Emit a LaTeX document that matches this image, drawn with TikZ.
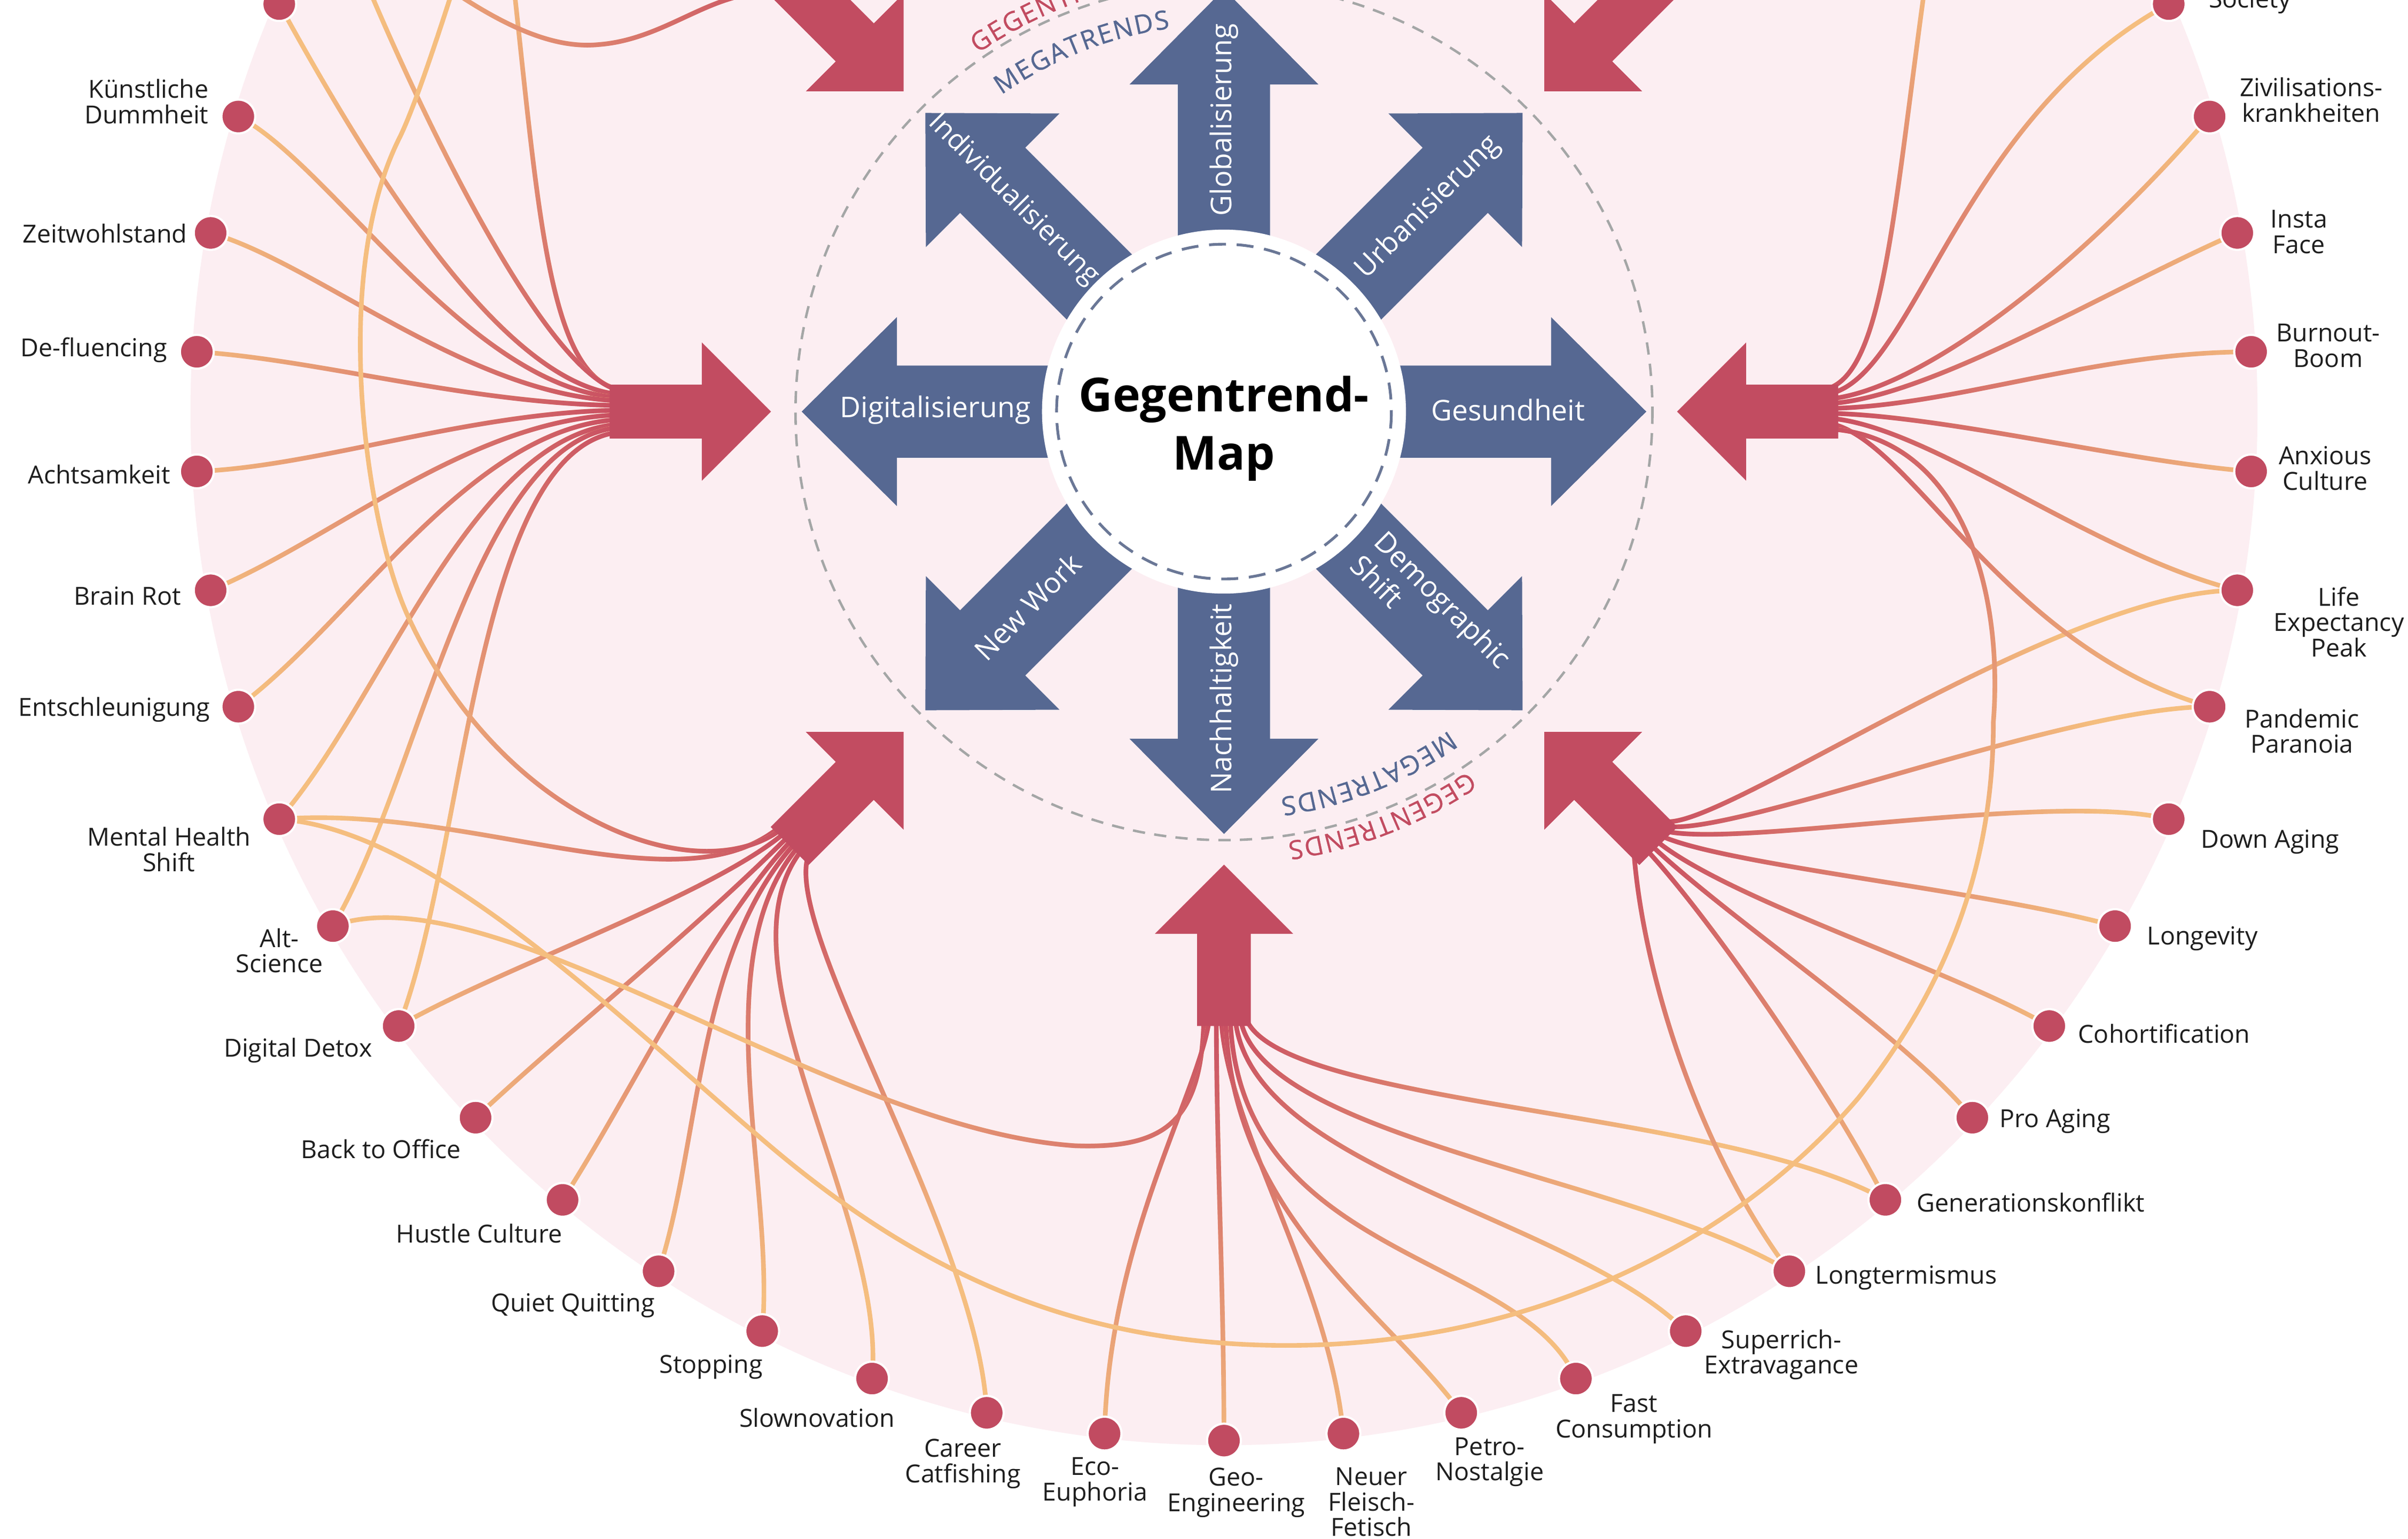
\documentclass[tikz,border=0pt]{standalone}
\usepackage{fontspec}
\setmainfont{Open Sans}
\newfontfamily\capfont[FakeBold=0.7]{Open Sans}
\usetikzlibrary{calc,decorations.text,fadings}
\definecolor{bgpink}{HTML}{FCEEF2}
\definecolor{megablue}{HTML}{566892}
\definecolor{gegenred}{HTML}{C24C61}
\definecolor{dotred}{HTML}{C14B61}
\definecolor{lineorange}{HTML}{F5BE7F}
\definecolor{linered}{HTML}{C84C61}
\definecolor{dashgray}{HTML}{A4A6A6}
\definecolor{labelgray}{HTML}{1E1E1E}
\definecolor{innerdash}{HTML}{6A7796}
\pgfdeclarelayer{bglayer}
\pgfdeclarelayer{curvelayer}
\pgfdeclarelayer{arrowlayer}
\pgfsetlayers{bglayer,curvelayer,arrowlayer,main}
\tikzfading[name=fanfade, inner color=transparent!0, outer color=transparent!100]
\newcommand\twotone[2]{%
  \draw[curvebase] #2;
  \draw[curvetop, path fading=fanfade, fit fading=false, fading transform={shift={(#1)}, scale=12}] #2;}
\newcommand\fanline[7]{%
  \twotone{#1}{({797+388*cos(#2)-(#3)*sin(#2)},{268-388*sin(#2)-(#3)*cos(#2)}) .. controls +({(#4)*cos(#2)},{-(#4)*sin(#2)}) and ($(#5)+(#6,#7)$) .. (#5.center)}}
\begin{document}
\begin{tikzpicture}[x=1pt,y=-1pt,
  dot/.style={circle, fill=dotred, draw=white, line width=1.4pt, minimum size=22pt, inner sep=0pt},
  lbl/.style={font=\fontsize{16.2}{16.6}\selectfont, text=labelgray, inner sep=0pt, align=center},
  megatext/.style={font=\fontsize{18.6}{22}\selectfont, text=white, inner sep=0pt, align=left},
  curvebase/.style={draw=lineorange, line width=3pt},
  curvetop/.style={draw=linered, line width=3pt},
  redarrow/.style={fill=gegenred},
  bluearrow/.style={fill=megablue}]
\useasboundingbox (0,0) rectangle (1568,1002);
\clip (0,0) rectangle (1568,1002);

% ---------- background ----------
\begin{pgfonlayer}{bglayer}
  \clip (0,0) rectangle (1568,1002);
  \fill[white] (0,0) rectangle (1568,1002);
  \fill[bgpink] (797,268) circle[radius=673];
  \draw[dashgray, line width=1.6pt, dash pattern=on 8pt off 6pt] (797,268) circle[radius=279];
\end{pgfonlayer}

% ---------- trend dots ----------
\foreach \k in {0,...,17}
  \node[dot] (n\k) at ({797+670*cos(-90+\k*20/3)},{268-670*sin(-90+\k*20/3)}) {};
\foreach \k in {37,...,53}
  \node[dot] (n\k) at ({797+670*cos(-90+\k*20/3)},{268-670*sin(-90+\k*20/3)}) {};
\foreach \k in {18,19,20,33,34,35,36}
  \coordinate (n\k) at ({797+670*cos(-90+\k*20/3)},{268-670*sin(-90+\k*20/3)});

% ---------- labels ----------
\node[lbl, anchor=east, align=right] (l38) at (136,66) {Künstliche\\Dummheit};
\node[lbl, anchor=east] (l39) at (122,152) {Zeitwohlstand};
\node[lbl, anchor=east] (l40) at (109,228) {De-fluencing};
\node[lbl, anchor=east] (l41) at (111,309) {Achtsamkeit};
\node[lbl, anchor=east] (l42) at (118,388) {Brain Rot};
\node[lbl, anchor=east] (l43) at (137,462) {Entschleunigung};
\node[lbl] (l44) at (110,553) {Mental Health\\Shift};
\node[lbl] (l45) at (182,619) {Alt-\\Science};
\node[lbl] (l46) at (194,684) {Digital Detox};
\node[lbl] (l47) at (248,748) {Back to Office};
\node[lbl] (l48) at (312,803) {Hustle Culture};
\node[lbl] (l49) at (373,850) {Quiet Quitting};
\node[lbl] (l50) at (463,890) {Stopping};
\node[lbl] (l51) at (532,923) {Slownovation};
\node[lbl] (l52) at (627,953) {Career\\Catfishing};
\node[lbl] (l53) at (713,965) {Eco-\\Euphoria};
\node[lbl] (l0) at (805,972) {Geo-\\Engineering};
\node[lbl] (l1) at (893,978) {Neuer\\Fleisch-\\Fetisch};
\node[lbl] (l2) at (970,952) {Petro-\\Nostalgie};
\node[lbl] (l3) at (1064,924) {Fast\\Consumption};
\node[lbl] (l4) at (1160,882) {Superrich-\\Extravagance};
\node[lbl, anchor=west] (l5) at (1182,832) {Longtermismus};
\node[lbl, anchor=west] (l6) at (1248,783) {Generationskonflikt};
\node[lbl, anchor=west] (l7) at (1302,730) {Pro Aging};
\node[lbl, anchor=west] (l8) at (1353,673) {Cohortification};
\node[lbl, anchor=west] (l9) at (1398,611) {Longevity};
\node[lbl, anchor=west] (l10) at (1433,548) {Down Aging};
\node[lbl] (l11) at (1499,476) {Pandemic\\Paranoia};
\node[lbl] (l12) at (1523,405) {Life\\Expectancy\\Peak};
\node[lbl] (l13) at (1514,305) {Anxious\\Culture};
\node[lbl] (l14) at (1516,225) {Burnout-\\Boom};
\node[lbl] (l15) at (1497,151) {Insta\\Face};
\node[lbl] (l16) at (1505,65) {Zivilisations-\\krankheiten};
\node[lbl] (l17) at (1465,1) {Society};

% ---------- connectors ----------
\begin{pgfonlayer}{curvelayer}
\clip (0,0) rectangle (1568,1002);
\coordinate (fL) at (409,268);
\coordinate (fBL) at (522.6,542.4);
\coordinate (fB) at (797,656);
\coordinate (fBR) at (1071.4,542.4);
\coordinate (fR) at (1185,268);
\coordinate (fTL) at (522.6,-6.4);
% left
\fanline{fL}{180}{-11}{80}{n37}{55}{100}
\twotone{fL}{(409,254) .. controls (340,254) and (352,50) .. (n34)}
\twotone{fL}{(409,255) .. controls (350,255) and (237,-7) .. (n36)}
\fanline{fL}{180}{-9}{100}{n38}{60}{30}
\fanline{fL}{180}{-7}{100}{n39}{70}{20}
\fanline{fL}{180}{-4}{100}{n40}{80}{5}
\fanline{fL}{180}{-1}{100}{n41}{80}{-3}
\fanline{fL}{180}{2}{100}{n42}{82}{-34}
\fanline{fL}{180}{5}{100}{n43}{76}{-56}
\fanline{fL}{180}{8}{100}{n44}{68}{-77}
\fanline{fL}{180}{10}{100}{n45}{58}{-97}
\fanline{fL}{180}{13}{100}{n46}{45}{-116}
% bottom left
\twotone{fBL}{(513.4,533.2) .. controls (449.8,596.8) and ($(n44)+(130,-10)$) .. (n44.center)}
\twotone{fBL}{(514.8,534.6) .. controls (465.3,584.1) and (330,540) .. (266,402) .. controls (238,342) and (215,180) .. (260,90) .. controls (280,50) and (330,-120) .. (n33)}
\fanline{fBL}{225}{-8}{60}{n46}{70}{-40}
\fanline{fBL}{225}{-5}{100}{n47}{62}{-58}
\fanline{fBL}{225}{-2}{80}{n48}{46.5}{-72}
\fanline{fBL}{225}{1}{100}{n49}{28}{-85}
\fanline{fBL}{225}{4}{100}{n50}{9}{-97}
\fanline{fBL}{225}{7}{100}{n51}{10}{-110}
\fanline{fBL}{225}{11}{50}{n52}{-5}{-120}
% bottom
\twotone{fB}{(784,656) .. controls (784,730) and (760,748) .. (700,746) .. controls (540,735) and (320,565) .. (n45.center)}
\fanline{fB}{270}{-9}{44}{n53}{3}{-133}
\fanline{fB}{270}{-5}{94}{n0}{0}{-98}
\fanline{fB}{270}{-2}{74}{n1}{-10}{-103}
\fanline{fB}{270}{1}{134}{n2}{-51.5}{-70}
\fanline{fB}{270}{4}{164}{n3}{-36}{-83}
\fanline{fB}{270}{7}{104}{n4}{-78}{-77}
\fanline{fB}{270}{10}{84}{n5}{-105}{-63}
\fanline{fB}{270}{13}{64}{n6}{-108}{-61}
% bottom right
\fanline{fBR}{315}{13}{30}{n12}{-120}{0}
\fanline{fBR}{315}{10}{30}{n11}{-100}{0}
\fanline{fBR}{315}{7}{30}{n10}{-80}{-20}
\fanline{fBR}{315}{4}{30}{n9}{-90}{-25}
\fanline{fBR}{315}{1}{57}{n8}{-70}{-40}
\fanline{fBR}{315}{-3}{70}{n7}{-45}{-55}
\fanline{fBR}{315}{-7}{57}{n6}{-35}{-70}
\twotone{fBR}{(1063.6,550.2) .. controls (1068.6,630) and ($(n5)+(-60,-80)$) .. (n5.center)}
% right
\twotone{fR}{(1185,254) .. controls (1240,250) and (1232,60) .. (n20)}
\fanline{fR}{0}{11}{60}{n17}{-142}{77}
\fanline{fR}{0}{8}{55}{n16}{-94}{109}
\fanline{fR}{0}{5}{65}{n15}{-87}{38}
\fanline{fR}{0}{2}{85}{n14}{-106}{0}
\fanline{fR}{0}{-1}{75}{n13}{-86}{-7}
\fanline{fR}{0}{-4}{65}{n12}{-97}{-24}
\fanline{fR}{0}{-7}{55}{n11}{-139}{-40}
\twotone{fR}{(1185,279) .. controls (1275,280) and (1305,380) .. (1298,470) .. controls (1298,560) and (1270,640) .. (1210,715) .. controls (1120,820) and (980,878) .. (830,876) .. controls (700,874) and (600,830) .. (500,745) .. controls (400,660) and (280,540) .. (n44.center)}
% top left
\twotone{fTL}{(518,-2) .. controls (470,-15) and (440,25) .. (390,29) .. controls (350,33) and (300,5) .. (n36)}
\end{pgfonlayer}

% ---------- arrows and centre ----------
\begin{pgfonlayer}{arrowlayer}
\clip (0,0) rectangle (1568,1002);
\foreach \a in {0,45,...,315} {
  \fill[redarrow, shift={(797,268)}, rotate=\a] (295,0) -- (340,45) -- (340,17.5) -- (400,17.5) -- (400,-17.5) -- (340,-17.5) -- (340,-45) -- cycle;
  \fill[bluearrow, shift={(797,268)}, rotate=\a] (100,-30) -- (213,-30) -- (213,-61.5) -- (275,0) -- (213,61.5) -- (213,30) -- (100,30) -- cycle;
}
\node[circle, fill=white, minimum size=237pt, inner sep=0pt] (hub) at (797,268) {};
\draw[innerdash, line width=1.8pt, dash pattern=on 11pt off 7pt] (797,268) circle[radius=109];
\node[font=\bfseries\fontsize{30.5}{38}\selectfont, align=center, text=black, inner sep=0pt] (title) at (797,279) {Gegentrend-\\Map};
\node[megatext] (tDig) at (609,267) {Digitalisierung};
\node[megatext] (tGes) at (982,267) {Gesundheit};
\node[megatext, rotate=90] (tGlo) at (797,78) {Globalisierung};
\node[megatext, rotate=-45, font=\fontsize{18}{22}\selectfont] (tInd) at (660,130) {Individualisierung};
\node[megatext, rotate=45] (tUrb) at (930,135) {Urbanisierung};
\node[megatext, rotate=45] (tNew) at (669,395) {New Work};
\node[megatext, rotate=90] (tNac) at (797,455) {Nachhaltigkeit};
\node[megatext, rotate=-45] (tDem) at (932,398) {Demographic\\Shift};
% curved ring captions
\path[decorate, decoration={text along path, text align=fit to path,
  text={|\color{megablue}\capfont\fontsize{17}{17}\selectfont|MEGATRENDS}}]
  ({797+252*cos(125.1)},{268-252*sin(125.1)}) arc[start angle=-125.1, end angle=-98, radius=252];
\path[decorate, decoration={text along path, text align=fit to path,
  text={|\color{gegenred}\capfont\fontsize{17}{17}\selectfont|GEGENTRENDS}}]
  ({797+283*cos(124.5)},{268-283*sin(124.5)}) arc[start angle=-124.5, end angle=-98.5, radius=283];
\path[decorate, decoration={text along path, text align=fit to path,
  text={|\color{megablue}\capfont\fontsize{17}{17}\selectfont|MEGATRENDS}}]
  ({797+254*cos(-54.8)},{268-254*sin(-54.8)}) arc[start angle=54.8, end angle=81.7, radius=254];
\path[decorate, decoration={text along path, text align=fit to path,
  text={|\color{gegenred}\capfont\fontsize{17}{17}\selectfont|GEGENTRENDS}}]
  ({797+283*cos(-55.8)},{268-283*sin(-55.8)}) arc[start angle=55.8, end angle=81.6, radius=283];
\end{pgfonlayer}
\end{tikzpicture}
\end{document}
